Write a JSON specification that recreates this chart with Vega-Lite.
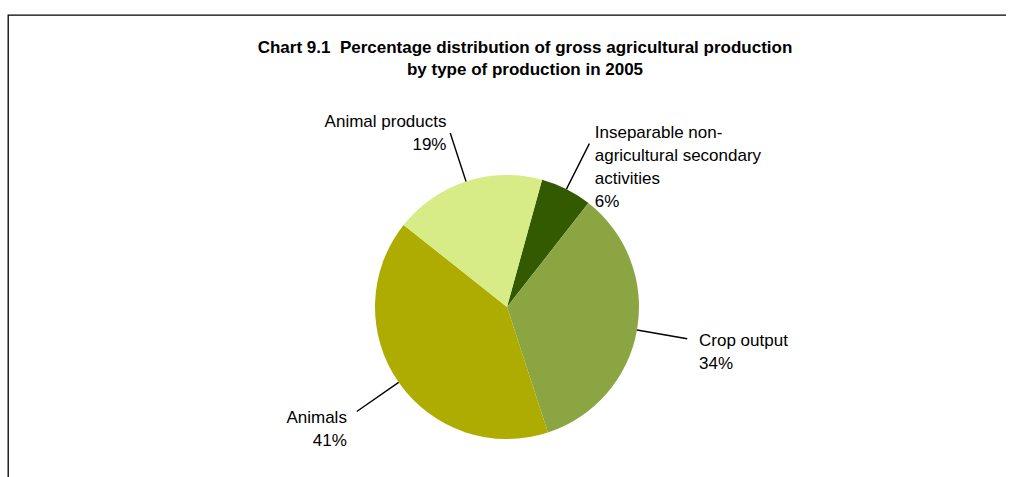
{
  "$schema": "https://vega.github.io/schema/vega-lite/v6.json",
  "width": 998,
  "height": 584,
  "padding": {"left": 8, "top": 15, "right": 0, "bottom": 0},
  "background": "white",
  "view": {"stroke": "#000000", "strokeWidth": 1.3, "strokeDash": [998, 584, 3000], "fill": "white"},
  "config": {"font": "Liberation Sans"},
  "title": {
    "text": ["Chart 9.1\u00a0 Percentage distribution of gross agricultural production", "by type of production in 2005"],
    "fontSize": 17,
    "fontWeight": "bold",
    "lineHeight": 22,
    "color": "#000000",
    "anchor": "middle",
    "frame": "group",
    "offset": -64,
    "dx": 18
  },
  "data": {
    "values": [
      {"type": "Inseparable non-agricultural secondary activities", "value": 6.3, "label": "Inseparable non-\nagricultural secondary\nactivities\n6%"},
      {"type": "Crop output", "value": 34.4, "label": "Crop output\n34%"},
      {"type": "Animals", "value": 40.7, "label": "Animals\n41%"},
      {"type": "Animal products", "value": 18.6, "label": "Animal products\n19%"}
    ]
  },
  "layer": [
    {
      "mark": {"type": "arc", "radius": 132},
      "encoding": {
        "theta": {"field": "value", "type": "quantitative", "stack": true, "scale": {"range": [0.269, 6.552]}},
        "order": {"field": "type", "sort": "descending"},
        "color": {
          "field": "type",
          "type": "nominal",
          "legend": null,
          "scale": {
            "domain": ["Inseparable non-agricultural secondary activities", "Crop output", "Animals", "Animal products"],
            "range": ["#335A00", "#8CA543", "#AEAC00", "#D7EB87"]
          }
        }
      }
    },
    {
      "mark": {"type": "arc", "radius": 183, "radius2": 132, "padAngle": 3, "filled": false, "stroke": "#000000", "strokeWidth": 1.4},
      "encoding": {
        "theta": {"field": "value", "type": "quantitative", "stack": true},
        "order": {"field": "type", "sort": "descending"}
      }
    },
    {
      "mark": {
        "type": "text",
        "radius": 195,
        "fontSize": 17,
        "lineBreak": "\n",
        "lineHeight": 23,
        "baseline": "middle",
        "color": "#000000",
        "align": {"expr": "(datum.value_start + datum.value_end) / 2 < 50 ? 'left' : 'right'"}
      },
      "encoding": {
        "theta": {"field": "value", "type": "quantitative", "stack": true},
        "order": {"field": "type", "sort": "descending"},
        "text": {"field": "label", "type": "nominal"}
      }
    }
  ]
}
